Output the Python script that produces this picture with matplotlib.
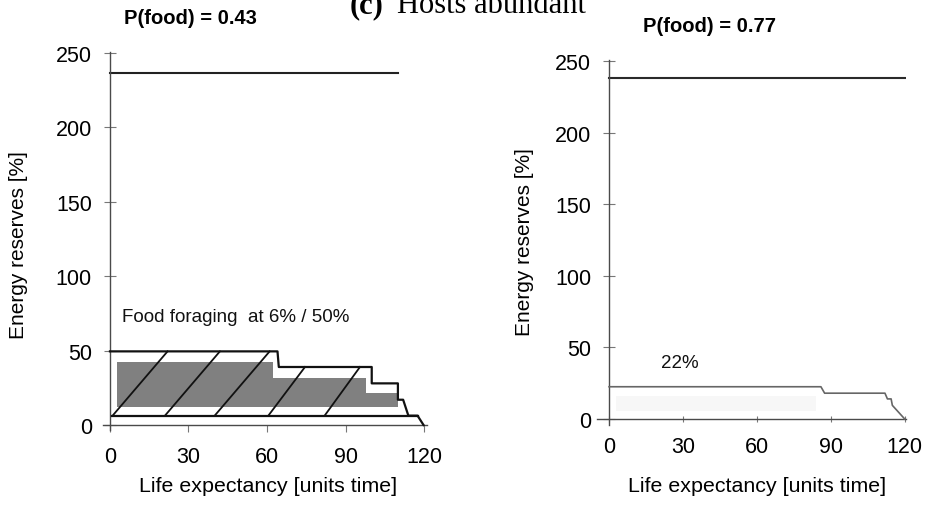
import matplotlib
matplotlib.use("Agg")
import matplotlib.pyplot as plt

plt.rcParams['font.family'] = ['Liberation Sans', 'DejaVu Sans']

# ---- shared axis layout ----
x_ticks = [0, 30, 60, 90, 120]
y_ticks = [0, 50, 100, 150, 200, 250]
x_label = "Life expectancy [units time]"
y_label = "Energy reserves [%]"

# ---- panel 1: P(food) = 0.43 ----
p1_title = "P(food) = 0.43"
p1_max_level = 236.7
p1_max_end = 110
# stepped outline of the foraging band
p1_outline_x = [0, 64, 64.5, 100, 100, 110, 110, 112, 114, 117.5, 119.8]
p1_outline_y = [49.5, 49.5, 39, 39, 28, 28, 17, 17, 6.3, 6.3, 0]
p1_base_level = 6.3
p1_base_x = [0.6, 117.5]
# slanted band dividers (start on the base, end on the outline)
p1_div_x0 = [1, 21, 40, 60.5, 82]
p1_div_x1 = [22, 42, 61, 74.5, 95.5]
p1_div_top = [49.5, 49.5, 49.5, 39, 39]
# solid core of the band
p1_core_edges = [2.5, 62.3, 98, 110]
p1_core_top = [42.3, 31.6, 21.8]
p1_core_bottom = 12
p1_note = "Food foraging  at 6% / 50%"

# ---- panel 2: P(food) = 0.77 ----
p2_title = "P(food) = 0.77"
p2_max_level = 237.8
p2_max_end = 120
p2_curve_x = [0, 86, 87.5, 112, 113, 114.5, 115, 120]
p2_curve_y = [22.5, 22.5, 18, 18, 14, 14, 9.5, 0]
p2_faint_edges = [3, 84]
p2_faint_top = [16]
p2_faint_bottom = 5.8
p2_note = "22%"

W, H = 928, 506
fig = plt.figure(figsize=(W / 100, H / 100), dpi=100)

axis_col = '#4a4a4a'


def style_axes(ax, xlim, ylim, xdir):
    ax.set_xlim(*xlim)
    ax.set_ylim(*ylim)
    for s in ['top', 'right']:
        ax.spines[s].set_visible(False)
    for s in ['left', 'bottom']:
        ax.spines[s].set_position(('data', 0))
        ax.spines[s].set_color(axis_col)
        ax.spines[s].set_linewidth(1.0)
    ax.set_xticks(x_ticks)
    ax.set_yticks(y_ticks)
    ax.tick_params(axis='y', direction='inout', length=8, width=0.8,
                   color='#777777', labelsize=15.5, pad=9)
    ax.tick_params(axis='x', direction=xdir, length=5, width=0.8,
                   color='#777777', labelsize=15.5, pad=10)
    ax.patch.set_alpha(0)


# left panel
ax1 = fig.add_axes([102.9 / W, 1 - 430.5 / H, 323.8 / W, 378 / H])
style_axes(ax1, (-2.7, 121), (-3, 251), 'out')
ax1.plot([0, p1_max_end], [p1_max_level, p1_max_level], color='#222222', lw=1.5)
ax1.stairs(p1_core_top, p1_core_edges, baseline=p1_core_bottom, fill=True,
           color='#808080', zorder=2)
ax1.plot(p1_outline_x, p1_outline_y, color='#111111', lw=1.6, zorder=3)
ax1.plot(p1_base_x, [p1_base_level, p1_base_level], color='#111111', lw=1.6, zorder=3)
for x0, x1, yt in zip(p1_div_x0, p1_div_x1, p1_div_top):
    ax1.plot([x0, x1], [p1_base_level, yt], color='#111111', lw=1.3, zorder=3)
ax1.text(4.6, 72.6, p1_note, fontsize=13.5, ha='left', va='center', color='#111111')

# right panel
ax2 = fig.add_axes([597 / W, 1 - 426.4 / H, 308.9 / W, 365.8 / H])
style_axes(ax2, (-4.9, 120.5), (-4.5, 251), 'inout')
ax2.plot([0, p2_max_end], [p2_max_level, p2_max_level], color='#2a2a2a', lw=1.5)
ax2.stairs(p2_faint_top, p2_faint_edges, baseline=p2_faint_bottom, fill=True,
           color='#f7f7f7', zorder=1)
ax2.plot(p2_curve_x, p2_curve_y, color='#666666', lw=1.2, zorder=3)
ax2.text(28.8, 39.1, p2_note, fontsize=13.5, ha='center', va='center', color='#111111')

# panel headings
fig.text(190 / W, 1 - 19 / H, p1_title, fontsize=14.5, weight='bold',
         ha='center', va='center')
fig.text(710 / W, 1 - 26.5 / H, p2_title, fontsize=14.5, weight='bold',
         ha='center', va='center')

# figure heading
fig.text(350 / W, 1 - 13 / H, "(c)", family='Liberation Serif', weight='bold',
         fontsize=22, ha='left', va='baseline')
fig.text(397 / W, 1 - 13 / H, "Hosts abundant", family='Liberation Serif',
         fontsize=22, ha='left', va='baseline')

# axis titles
fig.text(18.5 / W, 1 - 245 / H, y_label, rotation=90, fontsize=15,
         ha='center', va='center')
fig.text(525 / W, 1 - 242.5 / H, y_label, rotation=90, fontsize=15,
         ha='center', va='center')
fig.text(268 / W, 1 - 487 / H, x_label, fontsize=15.4, ha='center', va='center')
fig.text(757 / W, 1 - 487 / H, x_label, fontsize=15.4, ha='center', va='center')

fig.savefig("out.png", dpi=100)
